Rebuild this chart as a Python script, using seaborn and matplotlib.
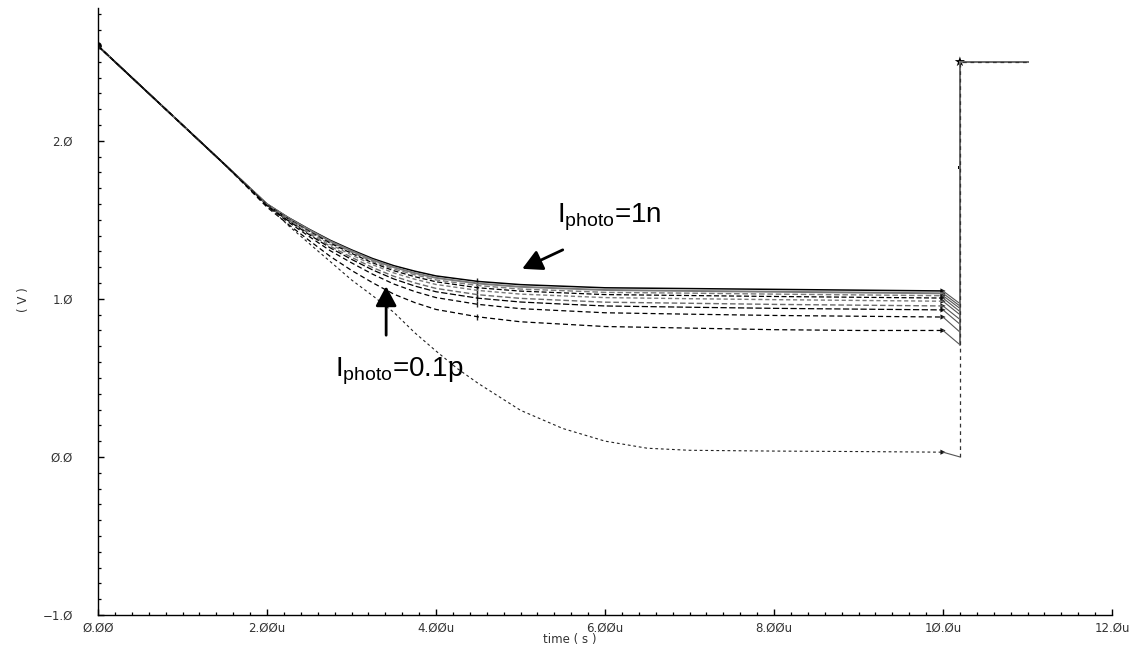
import numpy as np
import pandas as pd
import matplotlib
matplotlib.use("Agg")
import matplotlib.pyplot as plt
import seaborn as sns

# ---- data (time in microseconds, voltage in V) ----
t_main = [0, 1, 1.5, 2, 2.25, 2.5, 2.75, 3, 3.25, 3.5, 3.75, 4, 4.5, 5, 5.5, 6, 7, 8, 9, 10]
s1 = [2.60, 2.10, 1.85, 1.600, 1.515, 1.440, 1.370, 1.310, 1.255, 1.210, 1.175, 1.145, 1.110, 1.090, 1.080, 1.070, 1.065, 1.060, 1.055, 1.050]
s2 = [2.60, 2.10, 1.85, 1.599, 1.512, 1.436, 1.364, 1.303, 1.246, 1.200, 1.163, 1.133, 1.097, 1.076, 1.066, 1.056, 1.050, 1.045, 1.040, 1.035]
s3 = [2.60, 2.10, 1.85, 1.598, 1.510, 1.432, 1.358, 1.295, 1.237, 1.189, 1.152, 1.120, 1.084, 1.062, 1.052, 1.041, 1.036, 1.030, 1.025, 1.020]
s4 = [2.60, 2.10, 1.85, 1.596, 1.507, 1.427, 1.352, 1.288, 1.228, 1.178, 1.140, 1.108, 1.070, 1.049, 1.038, 1.027, 1.021, 1.015, 1.010, 1.005]
s5 = [2.60, 2.10, 1.85, 1.595, 1.504, 1.422, 1.344, 1.278, 1.216, 1.164, 1.124, 1.091, 1.053, 1.030, 1.019, 1.008, 1.001, 0.995, 0.990, 0.985]
s6 = [2.60, 2.10, 1.85, 1.592, 1.499, 1.413, 1.332, 1.263, 1.198, 1.143, 1.101, 1.066, 1.026, 1.003, 0.991, 0.979, 0.972, 0.965, 0.960, 0.955]
s7 = [2.60, 2.10, 1.85, 1.590, 1.495, 1.406, 1.322, 1.250, 1.183, 1.126, 1.081, 1.045, 1.004, 0.980, 0.967, 0.955, 0.947, 0.940, 0.935, 0.930]
s8 = [2.60, 2.10, 1.85, 1.587, 1.487, 1.394, 1.304, 1.228, 1.156, 1.094, 1.046, 1.008, 0.965, 0.938, 0.925, 0.912, 0.903, 0.895, 0.890, 0.885]
s9 = [2.60, 2.10, 1.85, 1.580, 1.472, 1.369, 1.268, 1.180, 1.102, 1.030, 0.976, 0.933, 0.886, 0.855, 0.840, 0.825, 0.815, 0.805, 0.800, 0.800]
t_low = [0, 1, 1.5, 2, 2.25, 2.5, 2.75, 3, 3.25, 3.5, 3.75, 4, 4.25, 4.5, 5, 5.5, 6, 6.5, 7, 8, 9, 10]
s10 = [2.60, 2.10, 1.85, 1.595, 1.465, 1.350, 1.235, 1.120, 1.020, 0.915, 0.785, 0.670, 0.560, 0.465, 0.295, 0.180, 0.100, 0.055, 0.042, 0.037, 0.034, 0.030]

# end of pulse: value at 10.2u, then reset to 2.5 V until 11u
t_end = 10.2
t_stop = 11.0
v_reset = 2.5
tail_vals = [0.97, 0.955, 0.94, 0.92, 0.90, 0.87, 0.84, 0.79, 0.71, 0.0]

marker_t = 4.49

x_ticks = [0, 2, 4, 6, 8, 10, 12]
x_labels = ["Ø.ØØ", "2.ØØu", "4.ØØu", "6.ØØu", "8.ØØu", "1Ø.Øu", "12.Øu"]
y_ticks = [-1, 0, 1, 2]
y_labels = ["−1.Ø", "Ø.Ø", "1.Ø", "2.Ø"]

series = [s1, s2, s3, s4, s5, s6, s7, s8, s9, s10]
times = [t_main] * 9 + [t_low]

# styles
colors = ["black", "#7a7a7a", "#7a7a7a", "black", "#7a7a7a", "#6a6a6a", "black", "black", "black", "#222222"]
dashes = [None, None, (4, 2), (4, 2), (3, 2), (4, 2), (5, 2), (4, 2.5), (4, 2.5), (2.5, 2.5)]
widths = [1.1, 1.4, 1.0, 0.9, 1.0, 1.0, 0.9, 0.9, 0.9, 0.8]

sns.set_theme(style="white")
plt.rcParams["font.family"] = ["DejaVu Sans"]

fig = plt.figure(figsize=(11.41, 6.53), dpi=100)
ax = fig.add_axes([98 / 1141, (653 - 615) / 653, (1112 - 98) / 1141, (615 - 8) / 653])

for i, (tt, vv) in enumerate(zip(times, series)):
    df = pd.DataFrame({"t": tt, "v": vv})
    sns.lineplot(data=df, x="t", y="v", ax=ax, estimator=None, sort=False,
                 color=colors[i], linewidth=widths[i])
    if dashes[i] is not None:
        ax.lines[-1].set_dashes(dashes[i])

# tails: 10u -> 10.2u (thin solid), then vertical reset and flat line
for i, (tt, vv) in enumerate(zip(times, series)):
    df_tail = pd.DataFrame({"t": [tt[-1], t_end], "v": [vv[-1], tail_vals[i]]})
    sns.lineplot(data=df_tail, x="t", y="v", ax=ax, estimator=None, sort=False,
                 color="#555555", linewidth=0.8)
for i in range(len(series)):
    df_jump = pd.DataFrame({"t": [t_end, t_end, t_stop], "v": [tail_vals[i], v_reset, v_reset]})
    sns.lineplot(data=df_jump, x="t", y="v", ax=ax, estimator=None, sort=False,
                 color="#6e6e6e" if i < 9 else "#333333", linewidth=1.4 if i < 9 else 0.9)
    if i == 9:
        ax.lines[-1].set_dashes((3, 3))

# small waveform markers
mk_v = [np.interp(marker_t, tt, vv) for tt, vv in zip(times, series)]
sns.scatterplot(x=[marker_t] * 9, y=mk_v[:9], ax=ax, marker="|", s=25, color="#222222", linewidth=1.0)
end_v = [vv[-1] for vv in series]
sns.scatterplot(x=[10.0] * 10, y=end_v, ax=ax, marker=">", s=14, color="#111111", edgecolor="none")
sns.scatterplot(x=[0.0], y=[s1[0]], ax=ax, marker="o", s=30, color="black", edgecolor="none")
sns.scatterplot(x=[t_end], y=[v_reset], ax=ax, marker="*", s=60, color="black", edgecolor="none")
sns.scatterplot(x=[t_end], y=[1.83], ax=ax, marker="s", s=5, color="black", edgecolor="none")

# axes styling
ax.set_xlim(0, 12)
ax.set_ylim(-1.0, 2.84)
ax.set_xticks(x_ticks, x_labels)
ax.set_yticks(y_ticks, y_labels)
ax.set_xticks(np.arange(0, 12.01, 0.2), minor=True)
ax.set_yticks(np.arange(-1.0, 2.84, 0.1), minor=True)
ax.tick_params(axis="both", which="major", direction="in", length=4.5, width=1.0,
               labelsize=8.5, labelcolor="#333333", color="black")
ax.tick_params(axis="both", which="minor", direction="in", length=2.5, width=0.9, color="black")
ax.tick_params(axis="x", which="major", pad=5)
ax.tick_params(axis="y", which="major", pad=18)
ax.tick_params(left=True, bottom=True, which="both")
for side in ["top", "right"]:
    ax.spines[side].set_visible(False)
for side in ["left", "bottom"]:
    ax.spines[side].set_color("black")
    ax.spines[side].set_linewidth(1.0)
ax.grid(False)

ax.set_xlabel("time ( s )", fontsize=8.5, color="#333333")
ax.set_ylabel("( V )", fontsize=8.5, color="#333333")
ax.xaxis.set_label_coords((570 - 98) / 1014, -0.029)
ax.yaxis.set_label_coords(-(98 - 30) / 1014, (615 - 300) / 607)

# annotations
ann_font = dict(fontsize=20, family="Liberation Sans", color="black")
ax.text(5.43, 1.48, r"$\mathregular{I_{photo}}$=1n", **ann_font)
ax.text(2.80, 0.51, r"$\mathregular{I_{photo}}$=0.1p", **ann_font)
arrow = dict(arrowstyle="-|>,head_length=0.6,head_width=0.32", color="black", lw=2.0,
             mutation_scale=20, shrinkA=0, shrinkB=0)
ax.annotate("", xy=(5.02, 1.19), xytext=(5.50, 1.31), arrowprops=arrow)
ax.annotate("", xy=(3.41, 1.08), xytext=(3.41, 0.77), arrowprops=arrow)

fig.savefig("out.png", dpi=100, facecolor="white")
